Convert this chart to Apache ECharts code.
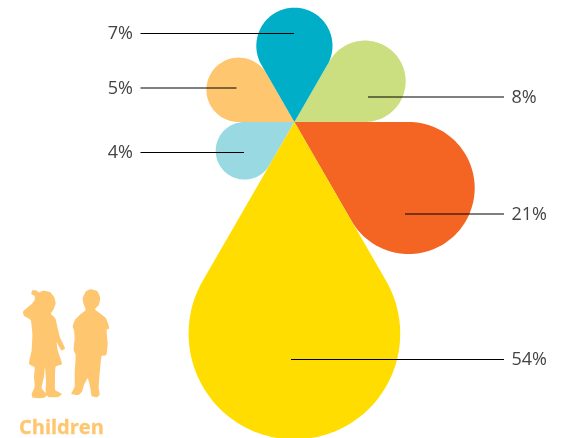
<!DOCTYPE html>
<html><head><meta charset="utf-8">
<script src="https://cdn.jsdelivr.net/npm/echarts@6/dist/echarts.min.js"></script>
<style>html,body{margin:0;padding:0;background:#fff}#c{width:567px;height:438px}</style>
</head><body><div id="c"></div>
<script>
// Data
var categories = ['Peach', 'Light blue', 'Green', 'Orange', 'Yellow', 'Teal'];
var values = [5, 4, 8, 21, 54, 7];
var labelText = ['5%', '4%', '8%', '21%', '54%', '7%'];
var directions = [-150, 150, -30, 30, 90, -90];

// Styles and layout
var colors = ['#FFC670', '#99D9E2', '#CBDF80', '#F46422', '#FFDD00', '#00AEC7'];
var hub = [294.4, 122];
var radiusPerRootValue = 14.4;
var leaderY = [88, 152.5, 97, 214, 359.5, 33.5];
var leaderInner = [236.5, 244, 368, 405, 291, 294];
var leaderOuter = [140.5, 140.5, 504, 504, 504, 140.5];
var textX = [133, 133, 511.5, 511.5, 511.5, 133];

var girl = [[97,61],[108,61],[116,67],[130,62],[150,66],[163,82],[167,100],[161,118],[153,131],[166,145],[173,175],[181,205],[195,235],[185,242],[175,226],[170,215],[173,240],[186,282],[167,290],[165,330],[166,360],[186,372],[175,381],[145,381],[137,370],[138,330],[135,292],[132,320],[125,355],[141,375],[130,384],[98,383],[95,372],[104,350],[102,320],[104,292],[87,282],[95,240],[97,190],[92,150],[72,137],[69,125],[95,102],[104,90],[104,78],[94,72]];
var boy = [[272,58],[292,64],[301,85],[296,105],[285,118],[300,130],[318,145],[328,175],[320,180],[323,220],[319,255],[305,258],[301,290],[296,350],[299,375],[290,382],[275,378],[271,355],[268,340],[263,325],[252,345],[246,365],[235,375],[214,372],[224,350],[224,310],[227,255],[221,240],[224,205],[222,180],[218,170],[225,150],[245,130],[257,120],[250,100],[248,85],[257,65]];
function silhouette(points) {
  return {
    type: 'polygon', silent: true,
    shape: { points: points.map(function (p) { return [p[0] / 3, 270 + p[1] / 3]; }), smooth: 0.15 },
    style: { fill: '#FFC670' }
  };
}

var chart = echarts.init(document.getElementById('c'), null, { renderer: 'canvas' });
chart.setOption({
  animation: false,
  backgroundColor: '#ffffff',
  grid: { left: 0, right: 0, top: 0, bottom: 0 },
  xAxis: { type: 'value', min: 0, max: 567, show: false },
  yAxis: { type: 'value', min: 0, max: 438, inverse: true, show: false },
  graphic: [
    silhouette(girl),
    silhouette(boy),
    { type: 'text', silent: true, x: 19, y: 418,
      style: { text: 'Children', font: 'bold 20px "Open Sans"', fill: '#FFC670', stroke: '#FFC670', lineWidth: 0.3 } }
  ],
  series: [
    {
      type: 'custom', coordinateSystem: 'cartesian2d', clip: true, z: 2,
      data: values.map(function (v, i) { return { name: categories[i], value: [i, v, directions[i]] }; }),
      renderItem: function (params, api) {
        var tip = api.coord(hub);
        var unit = api.size([1, 1])[0];
        var r = radiusPerRootValue * Math.sqrt(api.value(1)) * unit;
        var a = api.value(2) * Math.PI / 180;
        var cx = tip[0] + 2 * r * Math.cos(a), cy = tip[1] + 2 * r * Math.sin(a);
        var pts = [tip];
        for (var k = 0; k <= 96; k++) {
          var t = a - Math.PI * 2 / 3 + (k / 96) * (Math.PI * 4 / 3);
          pts.push([cx + r * Math.cos(t), cy + r * Math.sin(t)]);
        }
        return { type: 'polygon', shape: { points: pts }, style: { fill: colors[api.value(0)] } };
      }
    },
    {
      type: 'custom', coordinateSystem: 'cartesian2d', clip: false, z: 3, silent: true,
      data: labelText.map(function (t, i) { return { name: t, value: [i] }; }),
      renderItem: function (params, api) {
        var i = api.value(0);
        var a = api.coord([leaderInner[i], leaderY[i]]);
        var b = api.coord([leaderOuter[i], leaderY[i]]);
        var left = textX[i] < leaderInner[i];
        var tp = api.coord([textX[i], leaderY[i]]);
        return { type: 'group', children: [
          { type: 'line', shape: { x1: a[0], y1: a[1], x2: b[0], y2: b[1] },
            style: { stroke: '#000', lineWidth: 1 } },
          { type: 'text', x: tp[0], y: tp[1] + 0.5,
            style: { text: labelText[i], font: '18px "Open Sans"', fill: '#444444',
              align: left ? 'right' : 'left', verticalAlign: 'middle' } }
        ] };
      }
    }
  ]
});
</script></body></html>
